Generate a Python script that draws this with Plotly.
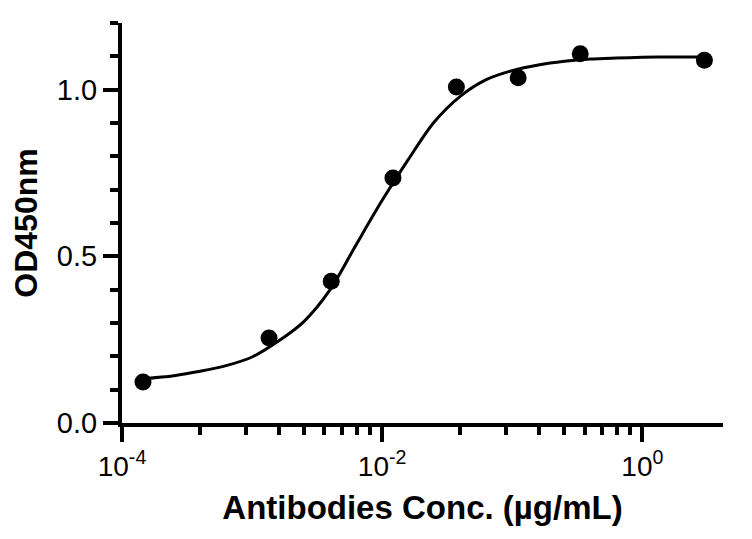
import plotly.graph_objects as go

# Measured data points
conc = [1.45e-4, 1.35e-3, 4.06e-3, 0.0121, 0.0372, 0.111, 0.333, 3.0]
od450 = [0.123, 0.255, 0.425, 0.735, 1.008, 1.036, 1.108, 1.088]

# Fitted curve
fit_conc = [1.445e-4, 2.512e-4, 3.981e-4, 6.31e-4, 1.0e-3, 1.585e-3, 2.512e-3,
            3.981e-3, 6.31e-3, 0.01, 0.01585, 0.02512, 0.03981, 0.0631, 0.1,
            0.1585, 0.2512, 0.3981, 0.631, 1.0, 1.585, 3.02]
fit_od = [0.133, 0.142, 0.155, 0.172, 0.198, 0.245, 0.305,
          0.400, 0.535, 0.668, 0.790, 0.903, 0.980, 1.030, 1.057,
          1.074, 1.085, 1.092, 1.095, 1.097, 1.098, 1.098]

# Axis ticks
x_major = [1e-4, 1e-2, 1]
x_major_text = ["10<sup>-4</sup>", "10<sup>-2</sup>", "10<sup>0</sup>"]
x_minor = [4e-4, 9e-4, 1.6e-3, 2.5e-3, 3.6e-3, 4.9e-3, 6.4e-3, 8.1e-3,
           0.04, 0.09, 0.16, 0.25, 0.36, 0.49, 0.64, 0.81]
y_major = [0.0, 0.5, 1.0]
y_major_text = ["0.0", "0.5", "1.0"]
y_minor = [0.1, 0.2, 0.3, 0.4, 0.6, 0.7, 0.8, 0.9, 1.1, 1.2]

FONT = "Liberation Sans, Arial, sans-serif"

fig = go.Figure()
fig.add_trace(go.Scatter(x=fit_conc, y=fit_od, mode="lines",
                         line=dict(color="black", width=3, shape="spline", smoothing=0.9),
                         hoverinfo="skip", showlegend=False))
fig.add_trace(go.Scatter(x=conc, y=od450, mode="markers",
                         marker=dict(color="black", size=17),
                         showlegend=False))

# page body has an 8px margin, so the figure is 744x531 and shifted by 8px
fig.update_layout(
    width=744, height=531,
    margin=dict(l=114, r=29, t=15, b=116, autoexpand=False),
    paper_bgcolor="white", plot_bgcolor="white",
    font=dict(family=FONT, color="black"),
    xaxis=dict(
        type="log", range=[-4, 0.62],
        tickmode="array", tickvals=x_major, ticktext=x_major_text,
        ticks="outside", ticklen=15, tickwidth=4, tickcolor="black",
        tickfont=dict(size=28, family=FONT, color="black"),
        minor=dict(tickmode="array", tickvals=x_minor, ticks="outside",
                   ticklen=8, tickwidth=4, tickcolor="black", showgrid=False),
        showline=True, linewidth=4, linecolor="black",
        showgrid=False, zeroline=False,
        title=dict(text="<b>Antibodies Conc. (µg/mL)</b>",
                   font=dict(size=33, family=FONT, color="black"), standoff=16),
    ),
    yaxis=dict(
        range=[0, 1.2],
        tickmode="array", tickvals=y_major, ticktext=y_major_text,
        ticks="outside", ticklen=15, tickwidth=4, tickcolor="black",
        tickfont=dict(size=29, family=FONT, color="black"),
        minor=dict(tickmode="array", tickvals=y_minor, ticks="outside",
                   ticklen=8, tickwidth=4, tickcolor="black", showgrid=False),
        showline=True, linewidth=4, linecolor="black",
        showgrid=False, zeroline=False,
        title=dict(text="<b>OD450nm</b>",
                   font=dict(size=32, family=FONT, color="black"), standoff=14),
    ),
)

fig.write_html("out.html")
